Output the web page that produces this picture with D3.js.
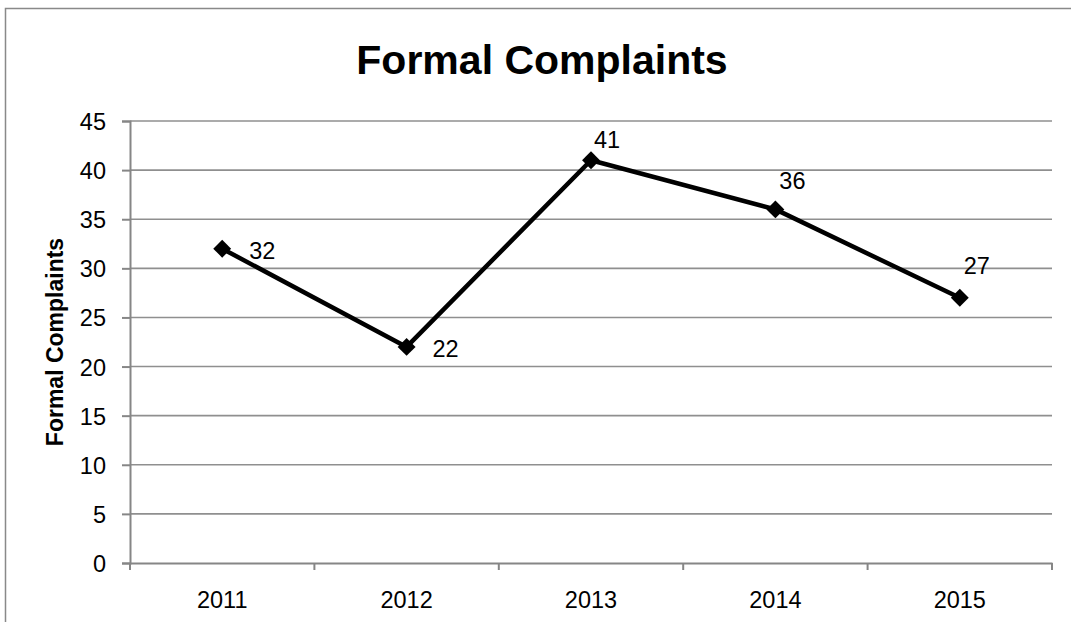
<!DOCTYPE html>
<html>
<head>
<meta charset="utf-8">
<script src="https://cdn.jsdelivr.net/npm/d3@7"></script>
<style>
  html, body { margin: 0; padding: 0; background: #fff; }
  svg { display: block; font-family: "Liberation Sans", Arial, sans-serif; }
</style>
</head>
<body>
<div id="chart"></div>
<script>
// Chart data
const years = ['2011', '2012', '2013', '2014', '2015'];
const complaints = [32, 22, 41, 36, 27];
const yTicks = [0, 5, 10, 15, 20, 25, 30, 35, 40, 45];

// Data label nudges (px), as placed in the original
const labelDx = [40, 39, 16, 17, 17];
const labelDy = [2, 2, -21, -29, -32];

const width = 1071;
const height = 622;
const margin = { top: 121, right: 19, bottom: 59, left: 130 };

const svg = d3.select('#chart')
    .append('svg')
    .attr('width', width)
    .attr('height', height);

// Chart area border (runs off the right and bottom edge)
svg.append('rect')
    .attr('x', 5.5)
    .attr('y', 8.5)
    .attr('width', 1074)
    .attr('height', 640)
    .attr('fill', 'none')
    .attr('stroke', '#898989')
    .attr('stroke-width', 1.5);

const x = d3.scaleBand()
    .domain(years)
    .range([margin.left, width - margin.right]);

const y = d3.scaleLinear()
    .domain([0, 45])
    .range([height - margin.bottom, margin.top]);

// Gridlines
svg.append('g')
    .selectAll('line')
    .data(yTicks.filter(d => d > 0))
    .join('line')
    .attr('x1', margin.left)
    .attr('x2', width - margin.right)
    .attr('y1', d => y(d))
    .attr('y2', d => y(d))
    .attr('stroke', '#8f8f8f')
    .attr('stroke-width', 1.6);

// Y axis
const yAxis = svg.append('g')
    .attr('transform', `translate(${margin.left},0)`)
    .call(d3.axisLeft(y).tickValues(yTicks).tickSize(8).tickPadding(16));

// X axis: ticks sit on category boundaries
const boundaries = years.map(d => x(d)).concat([x.range()[1]]);
const xAxis = svg.append('g')
    .attr('transform', `translate(0,${height - margin.bottom})`)
    .call(d3.axisBottom(x).tickSize(0).tickPadding(28));

xAxis.selectAll('.bound')
    .data(boundaries)
    .join('line')
    .attr('class', 'bound')
    .attr('x1', d => d)
    .attr('x2', d => d)
    .attr('y1', 0)
    .attr('y2', 7);

[yAxis, xAxis].forEach(g => {
    g.select('.domain').attr('stroke', '#868686').attr('stroke-width', 2);
    g.selectAll('line').attr('stroke', '#868686').attr('stroke-width', 2);
    g.selectAll('text')
        .attr('fill', '#000')
        .style('font-size', '23.5px')
        .style('font-family', '"Liberation Sans", Arial, sans-serif');
});
yAxis.selectAll('text').attr('dy', '0.36em');

// Line
const line = d3.line()
    .x((d, i) => x(years[i]) + x.bandwidth() / 2)
    .y(d => y(d));

svg.append('path')
    .datum(complaints)
    .attr('d', line)
    .attr('fill', 'none')
    .attr('stroke', '#000')
    .attr('stroke-width', 4.5)
    .attr('stroke-linejoin', 'round');

// Diamond markers
const diamond = d3.symbol().type(d3.symbolSquare).size(160);
svg.append('g')
    .selectAll('path')
    .data(complaints)
    .join('path')
    .attr('d', diamond)
    .attr('transform', (d, i) => `translate(${x(years[i]) + x.bandwidth() / 2},${y(d)}) rotate(45)`)
    .attr('fill', '#000');

// Data labels
svg.append('g')
    .selectAll('text')
    .data(complaints)
    .join('text')
    .attr('x', (d, i) => x(years[i]) + x.bandwidth() / 2 + labelDx[i])
    .attr('y', (d, i) => y(d) + labelDy[i])
    .attr('dy', '0.36em')
    .attr('text-anchor', 'middle')
    .style('font-size', '23.5px')
    .text(d => d);

// Title
svg.append('text')
    .attr('x', 542)
    .attr('y', 74)
    .attr('text-anchor', 'middle')
    .style('font-size', '41px')
    .style('font-weight', 'bold')
    .text('Formal Complaints');

// Y axis title
svg.append('text')
    .attr('transform', `translate(63,${(y(0) + y(45)) / 2}) rotate(-90)`)
    .attr('text-anchor', 'middle')
    .style('font-size', '23px')
    .style('font-weight', 'bold')
    .text('Formal Complaints');
</script>
</body>
</html>
